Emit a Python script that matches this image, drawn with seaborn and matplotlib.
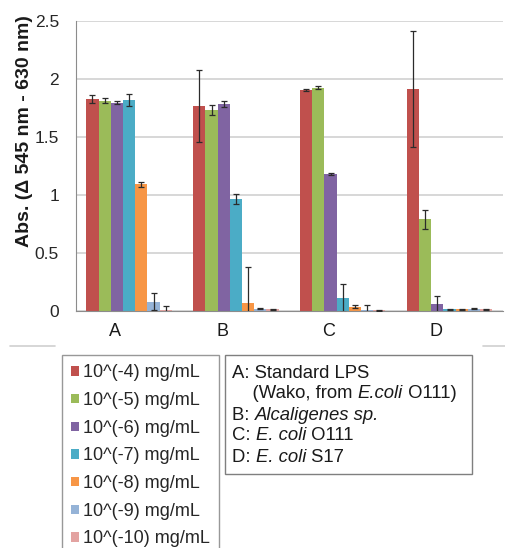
import numpy as np
import pandas as pd
import matplotlib.pyplot as plt
import seaborn as sns
from matplotlib.patches import Patch, Rectangle
from matplotlib.lines import Line2D
from matplotlib.ticker import FuncFormatter
from matplotlib.offsetbox import TextArea, HPacker, AnnotationBbox

# samples on the x axis and LPS concentrations (hue)
samples = ["A", "B", "C", "D"]
concs = ["10^(-4) mg/mL", "10^(-5) mg/mL", "10^(-6) mg/mL", "10^(-7) mg/mL",
         "10^(-8) mg/mL", "10^(-9) mg/mL", "10^(-10) mg/mL"]
colors = ["#C0504D", "#9BBB59", "#8064A2", "#4BACC6",
          "#F79646", "#95B3D7", "#E3A3A1"]

# mean absorbance per sample (one value per concentration)
abs_A = [1.825, 1.813, 1.796, 1.820, 1.092, 0.080, 0.008]
abs_B = [1.767, 1.733, 1.787, 0.963, 0.066, 0.020, 0.013]
abs_C = [1.905, 1.925, 1.181, 0.109, 0.037, 0.008, 0.005]
abs_D = [1.911, 0.790, 0.057, 0.015, 0.015, 0.018, 0.015]

# standard deviations
err_A = [0.035, 0.020, 0.012, 0.055, 0.022, 0.072, 0.035]
err_B = [0.310, 0.040, 0.026, 0.043, 0.310, 0.005, 0.005]
err_C = [0.008, 0.012, 0.010, 0.120, 0.012, 0.040, 0.003]
err_D = [0.500, 0.080, 0.075, 0.003, 0.003, 0.005, 0.003]

# sample notes: (text, italic) pieces per line
sample_notes = [
    [("A: Standard LPS", False)],
    [("    (Wako, from ", False), ("E.coli", True), (" O111)", False)],
    [("B: ", False), ("Alcaligenes sp.", True)],
    [("C: ", False), ("E. coli", True), (" O111", False)],
    [("D: ", False), ("E. coli", True), (" S17", False)],
]

# long form table
rows = []
for s, vals, errs in zip(samples, [abs_A, abs_B, abs_C, abs_D], [err_A, err_B, err_C, err_D]):
    for c, v, e in zip(concs, vals, errs):
        rows.append({"sample": s, "conc": c, "abs": v, "err": e})
df = pd.DataFrame(rows)

sns.set_style("white")
plt.rcParams["font.family"] = ["Liberation Sans", "DejaVu Sans"]

W, H = 506, 548
fig = plt.figure(figsize=(W / 100, H / 100), dpi=100)
ax = fig.add_axes([75.7 / W, 1 - 311 / H, (503 - 75.7) / W, 290 / H])

sns.barplot(data=df, x="sample", y="abs", hue="conc", order=samples, hue_order=concs,
            palette=colors, saturation=1, errorbar=None, width=0.8, linewidth=0,
            legend=False, ax=ax)

# error bars on top of each bar
for cont, c in zip(ax.containers, concs):
    sub = df[df["conc"] == c].set_index("sample").loc[samples]
    xs = [b.get_x() + b.get_width() / 2 for b in cont]
    ax.errorbar(xs, sub["abs"], yerr=sub["err"], fmt="none", ecolor="#2b2b2b",
                elinewidth=0.9, capsize=2.3, capthick=0.9, zorder=5)

ax.set_xlim(-0.5, 3.5)
ax.set_ylim(0, 2.5)
ax.set_yticks([0, 0.5, 1, 1.5, 2, 2.5])
ax.yaxis.set_major_formatter(FuncFormatter(lambda v, p: f"{v:g}"))
ax.set_xticks(np.arange(len(samples)) - 0.13, samples)
ax.grid(axis="y", color="#D4D4D4", linewidth=1.3)
ax.set_axisbelow(True)
for side in ["top", "right"]:
    ax.spines[side].set_visible(False)
ax.spines["left"].set_color("#8C8C8C")
ax.spines["bottom"].set_color("#8C8C8C")
ax.tick_params(axis="y", length=4, color="#8C8C8C", labelsize=12.5, labelcolor="#262626", pad=8)
ax.tick_params(axis="x", length=0, labelsize=13, labelcolor="#1a1a1a", pad=9)
ax.set_xlabel("")
ax.set_ylabel("Abs. (Δ 545 nm - 630 nm)", fontsize=14, fontweight="bold", color="#1a1a1a")
ax.yaxis.set_label_coords((33 - 75.7) / 427.3, (311 - 131.5) / 290)

# frame line of the chart area
for x0, x1 in [(10, 55), (483, 506)]:
    fig.add_artist(Line2D([x0 / W, x1 / W], [1 - 346 / H] * 2, color="#D0D0D0", lw=1.2))

handles = [Patch(facecolor=col, edgecolor="none") for col in colors]
fig.legend(handles, concs, loc="upper left", bbox_to_anchor=(62 / W, 1 - 355 / H),
           frameon=True, fancybox=False, edgecolor="#7F7F7F", fontsize=13,
           handlelength=0.42, handleheight=0.42, handletextpad=0.2,
           labelspacing=0.59, borderpad=0.52, borderaxespad=0)
fig.legends[0].get_frame().set_linewidth(1.0)

fig.add_artist(Rectangle((225 / W, 1 - 474 / H), (472 - 225) / W, (474 - 355) / H,
                         transform=fig.transFigure, facecolor="white",
                         edgecolor="#7F7F7F", lw=1.0))
for i, pieces in enumerate(sample_notes):
    parts = [TextArea(t, textprops=dict(fontsize=13.3, color="#1a1a1a",
                                        fontstyle="italic" if it else "normal"))
             for t, it in pieces]
    row = HPacker(children=parts, align="baseline", pad=0, sep=0)
    ab = AnnotationBbox(row, (232 / W, 1 - (373 + 21 * i) / H), xycoords="figure fraction",
                        box_alignment=(0, 0.5), frameon=False, pad=0)
    fig.add_artist(ab)

fig.savefig("out.png", dpi=100)
